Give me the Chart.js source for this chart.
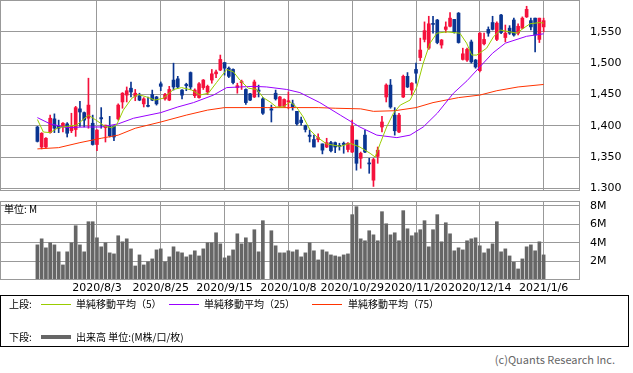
<!DOCTYPE html>
<html>
<head>
<meta charset="utf-8">
<script src="https://cdn.jsdelivr.net/npm/chart.js@4"></script>
<style>
  body { margin: 0; background: #fff; width: 633px; height: 373px; overflow: hidden; position: relative; font-family: "Noto Sans CJK JP", sans-serif; }
  #price { position: absolute; left: 0; top: 0; }
  #volume { position: absolute; left: 0; top: 201px; }
  .abs { position: absolute; white-space: nowrap; }
  #unit { left: 4px; top: 201px; font-size: 10px; color: #000; }
  #legend { left: 0; top: 295px; width: 627px; height: 50px; border: 1px solid #000; }
  .lg { position: absolute; font-size: 10px; line-height: 12px; color: #000; }
  .sw { position: absolute; height: 1px; width: 30px; }
  #copy { right: 18px; top: 351px; font-size: 11px; color: #666; }
</style>
</head>
<body>
<canvas id="price" width="633" height="191"></canvas>
<canvas id="volume" width="633" height="95"></canvas>
<div id="unit" class="abs">単位: M</div>
<div id="legend" class="abs">
  <div class="lg" style="left:8px;top:2px">上段:</div>
  <div class="sw" style="left:40px;top:8px;background:#99cc00"></div>
  <div class="lg" style="left:75px;top:2px">単純移動平均（5）</div>
  <div class="sw" style="left:168px;top:8px;background:#9900ff"></div>
  <div class="lg" style="left:203px;top:2px">単純移動平均（25）</div>
  <div class="sw" style="left:311px;top:8px;background:#ff3300"></div>
  <div class="lg" style="left:347px;top:2px">単純移動平均（75）</div>
  <div class="lg" style="left:8px;top:35px">下段:</div>
  <div class="sw" style="left:40px;top:39px;height:4px;background:#666"></div>
  <div class="lg" style="left:75px;top:35px">出来高 単位:(M株/口/枚)</div>
</div>
<div id="copy" class="abs">(c)Quants Research Inc.</div>
<script>
// daily candles, index 0 = first session shown (null = no trading, 2020/10/1)
const opens = [1398,1366,1366,1389,1411,1399,1398,1403,1392,1394,1427,1421,1412,1404,1370,1413,1397,1399,1399,1411,
  1438,1449,1460,1447,1448,1435,1432,1450,1446,1467,1443,1441,1473,1475,1457,1466,1485,1448,1445,1461,
  1454,1473,1483,1489,1501,1492,1490,1461,1469,1458,1451,1446,1457,1443,null,1427,1452,1431,1431,1438,
  1435,1423,1409,1400,1385,1378,1378,1371,1366,1373,1373,1368,1372,1362,1358,1377,1348,1385,1340,1313,
  1351,1398,1446,1465,1417,1390,1446,1479,1457,1490,1509,1538,1524,1563,1569,1529,1554,1559,1570,1580,
  1506,1505,1534,1505,1488,1531,1554,1565,1538,1577,1541,1556,1569,1548,1556,1574,1568,1572,1538,1558];
const highs = [1399,1389,1381,1417,1419,1409,1405,1405,1420,1431,1439,1422,1476,1417,1394,1429,1401,1415,1400,1435,
  1453,1462,1470,1458,1452,1445,1446,1457,1447,1470,1452,1463,1500,1479,1458,1468,1486,1459,1469,1474,
  1465,1490,1489,1513,1501,1494,1491,1468,1473,1459,1452,1473,1465,1445,null,1433,1457,1447,1443,1454,
  1441,1423,1414,1401,1393,1385,1387,1371,1380,1375,1374,1372,1374,1373,1409,1377,1358,1393,1348,1348,
  1366,1415,1467,1474,1429,1420,1481,1485,1469,1500,1540,1566,1575,1575,1570,1538,1566,1581,1570,1581,
  1524,1524,1537,1506,1549,1548,1558,1575,1566,1578,1561,1560,1572,1563,1574,1591,1572,1572,1572,1572];
const lows = [1374,1363,1364,1388,1389,1389,1390,1382,1389,1383,1399,1398,1396,1369,1360,1396,1374,1382,1376,1409,
  1428,1438,1446,1440,1440,1430,1430,1440,1433,1456,1441,1440,1457,1460,1443,1456,1458,1445,1444,1458,
  1450,1468,1477,1488,1481,1477,1467,1452,1458,1434,1440,1445,1446,1418,null,1406,1441,1430,1430,1427,
  1425,1401,1401,1390,1374,1366,1374,1355,1365,1358,1357,1361,1356,1358,1357,1329,1332,1357,1324,1303,
  1340,1390,1438,1428,1385,1389,1445,1461,1449,1468,1504,1534,1522,1548,1531,1524,1549,1558,1548,1532,
  1505,1503,1500,1492,1486,1529,1543,1553,1536,1547,1534,1546,1543,1545,1555,1573,1553,1518,1533,1550];
const closes = [1375,1388,1380,1412,1396,1396,1404,1388,1399,1429,1422,1409,1433,1370,1393,1411,1401,1384,1382,1433,
  1452,1456,1454,1452,1441,1443,1431,1441,1435,1463,1450,1458,1462,1462,1449,1464,1462,1457,1467,1473,
  1463,1483,1486,1506,1492,1479,1469,1464,1470,1437,1441,1470,1455,1420,null,1425,1443,1446,1442,1440,
  1430,1403,1405,1394,1383,1366,1381,1361,1373,1360,1366,1367,1370,1372,1399,1340,1356,1358,1339,1346,
  1361,1406,1465,1430,1392,1417,1479,1462,1468,1484,1521,1552,1563,1562,1533,1537,1558,1572,1550,1533,
  1515,1522,1502,1494,1548,1538,1548,1554,1564,1549,1548,1548,1545,1559,1572,1586,1558,1545,1572,1568];

// volume in millions of shares
const volumes = [3.78,4.43,3.46,4.0,3.78,3.03,1.62,3.03,4.0,5.84,3.78,3.03,6.27,6.27,4.54,3.57,4.0,2.92,2.81,4.76,
  4.11,4.43,3.35,1.51,2.70,1.62,1.95,2.27,3.24,3.35,1.95,2.49,3.57,3.03,2.92,2.49,2.70,3.14,2.59,3.35,
  4.0,4.0,5.08,3.89,2.38,2.59,3.24,4.97,3.89,4.54,4.0,5.41,3.03,6.38,null,5.30,3.68,2.92,2.92,3.14,
  3.03,3.24,2.49,2.92,4.0,3.14,2.16,3.24,3.03,2.70,2.59,2.49,2.70,2.81,7.03,7.89,4.43,4.22,5.30,4.86,
  4.22,7.35,6.05,4.86,5.08,4.22,7.46,5.51,4.76,5.08,5.41,6.38,3.57,5.41,7.03,4.11,6.16,4.97,3.14,3.46,
  3.24,4.22,4.43,4.54,3.68,2.92,3.35,3.89,6.27,3.03,3.35,2.59,1.91,1.19,2.27,3.57,3.78,3.14,4.11,2.70];

// moving averages: [session index, price]
const ma5 = [[0,1410],[1.4,1390],[3,1389],[4.9,1397],[6.9,1399],[9.2,1401],[12,1417],[14,1408],[15.9,1399],[17.5,1397],
  [18.6,1401],[20.2,1425],[22.2,1444],[23.7,1450],[25.7,1446],[27.6,1441],[29.6,1444],[32,1458],[33.9,1461],[36.3,1457],
  [38.2,1449],[40.2,1452],[42.1,1469],[44.5,1490],[46.1,1486],[47.6,1473],[49.6,1460],[51.6,1458],[53.1,1445],[54.7,1438],
  [56.2,1430],[57.8,1430],[59.4,1438],[60.9,1430],[62.5,1414],[64.1,1393],[65.7,1382],[68,1371],[71.2,1367],[73.5,1372],
  [75.8,1366],[78.2,1356],[79.4,1350],[80.6,1372],[82.1,1398],[83.7,1420],[85.3,1433],[87.6,1441],[89.2,1462],[90.7,1500],
  [92.3,1532],[93.9,1548],[96.2,1550],[99.3,1548],[100.9,1532],[102.1,1513],[103.3,1513],[105.6,1524],[107.2,1542],[108.8,1553],
  [111.1,1550],[112.7,1548],[114.3,1556],[115.8,1563],[118.2,1565],[119,1564]];
const ma25 = [[0,1413],[3,1403],[7,1397],[11,1398],[15,1398],[19,1403],[22.6,1412],[29,1421],[33,1430],[36.7,1437],
  [41.4,1449],[44.5,1461],[50.8,1463],[53.9,1462],[58.6,1458],[61.7,1453],[66.4,1437],[71.2,1417],[75.8,1398],[79.8,1385],
  [84.5,1381],[87.6,1385],[90.7,1398],[94,1420],[97.8,1452],[101,1472],[104,1494],[107,1516],[110,1532],[115,1543],[119,1547]];
const ma75 = [[0,1363],[5,1365],[10,1373],[15,1380],[19,1385],[23,1396],[29,1406],[35,1417],[40,1425],[44,1429],
  [54,1429],[66,1429],[70,1428],[76,1427],[79,1423],[84,1424],[89,1429],[93,1437],[99,1445],[104,1449],
  [108,1456],[113,1462],[119,1466]];

const dateTicks = [14, 29, 44, 59, 74, 89, 104, 119];
const dateLabels = ['2020/8/3', '2020/8/25', '2020/9/15', '2020/10/8', '2020/10/29', '2020/11/20', '2020/12/14', '2021/1/6'];
const priceTicks = [1300, 1350, 1400, 1450, 1500, 1550];
const volumeTicks = [2, 4, 6, 8];

const UP = '#f5113c', DOWN = '#0a3591', GRID = '#999';
const X_MIN = -8.79, X_MAX = 127.55;
const axisFont = { family: 'DejaVu Sans', size: 11 };

const wicks = [], bodies = [], candleColors = [], bars = [];
opens.forEach((o, i) => {
  if (o === null) return;
  wicks.push({ x: i, y: [lows[i], highs[i]] });
  bodies.push({ x: i, y: [o, closes[i]] });
  candleColors.push(closes[i] >= o ? UP : DOWN);
});
volumes.forEach((v, i) => {
  if (v !== null) bars.push({ x: i, y: v });
});

const toPoints = arr => arr.map(p => ({ x: p[0], y: p[1] }));

// no label padding around the plot, the panels sit flush with the canvas
const noPad = s => { s.paddingTop = 0; s.paddingBottom = 0; s.paddingLeft = 0; s.paddingRight = 0; };

const frame = {
  id: 'frame',
  afterDraw(chart) {
    const a = chart.chartArea, c = chart.ctx;
    c.save();
    c.strokeStyle = GRID;
    c.lineWidth = 1;
    c.strokeRect(a.left + 0.5, a.top + 0.5, a.right - a.left - 1, a.bottom - a.top - 1);
    c.restore();
  }
};

const xScale = (showLabels) => ({
  type: 'linear',
  min: X_MIN,
  max: X_MAX,
  offset: false,
  afterBuildTicks: s => { s.ticks = dateTicks.map(v => ({ value: v })); },
  ticks: {
    display: showLabels,
    autoSkip: false,
    maxRotation: 0,
    padding: 2,
    color: '#000',
    font: axisFont,
    callback: (v, idx) => dateLabels[idx]
  },
  grid: { color: GRID, drawTicks: false, offset: false },
  border: { display: false },
  afterFit: s => { s.height = showLabels ? 16 : 0; noPad(s); }
});

const yScale = (min, max, ticks, fmt) => ({
  position: 'right',
  min: min,
  max: max,
  afterBuildTicks: s => { s.ticks = ticks.map(v => ({ value: v })); },
  ticks: { padding: 10, color: '#000', font: axisFont, callback: fmt },
  grid: { color: GRID, drawTicks: false },
  border: { display: false },
  afterFit: s => { s.width = 53; noPad(s); }
});

const lineSet = (pts, color) => ({
  type: 'line', data: toPoints(pts), borderColor: color, borderWidth: 1,
  pointRadius: 0, tension: 0, order: 0
});

new Chart(document.getElementById('price'), {
  type: 'bar',
  data: {
    datasets: [
      lineSet(ma5, '#99cc00'),
      lineSet(ma25, '#9900ff'),
      lineSet(ma75, '#ff3300'),
      { type: 'bar', data: bodies, backgroundColor: candleColors, barThickness: 3, minBarLength: 1, grouped: false, order: 1 },
      { type: 'bar', data: wicks, backgroundColor: candleColors, barThickness: 1, grouped: false, order: 2 }
    ]
  },
  options: {
    animation: false,
    responsive: false,
    layout: { padding: 0 },
    plugins: { legend: { display: false }, tooltip: { enabled: false } },
    scales: {
      x: xScale(false),
      y: yScale(1295.7, 1601, priceTicks, v => v.toLocaleString('en-US'))
    }
  },
  plugins: [frame]
});

new Chart(document.getElementById('volume'), {
  type: 'bar',
  data: {
    datasets: [{ data: bars, backgroundColor: '#666666', barThickness: 3 }]
  },
  options: {
    animation: false,
    responsive: false,
    layout: { padding: 0 },
    plugins: { legend: { display: false }, tooltip: { enabled: false } },
    scales: {
      x: xScale(true),
      y: yScale(0, 8.5, volumeTicks, v => v + 'M')
    }
  },
  plugins: [frame]
});
</script>
</body>
</html>
